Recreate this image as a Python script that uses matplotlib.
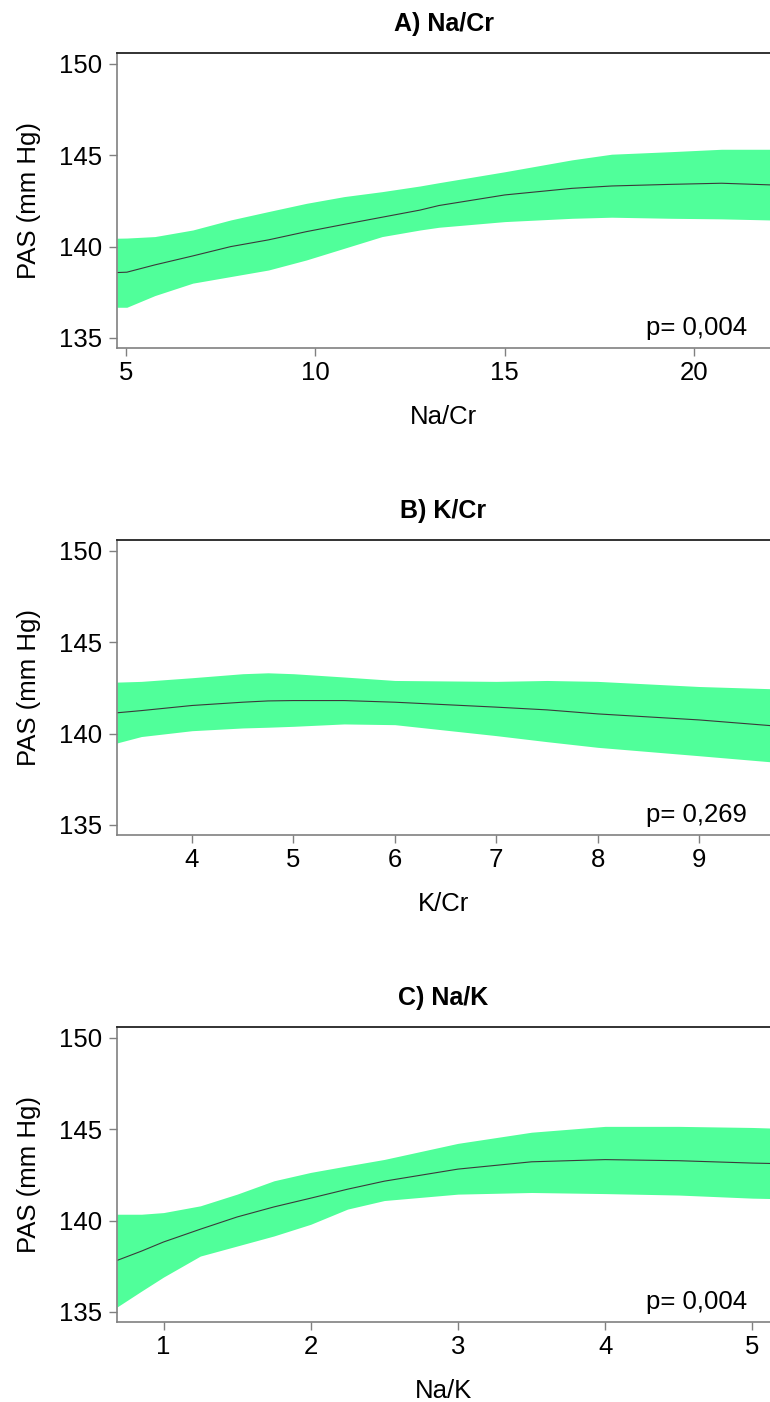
import matplotlib
matplotlib.use("Agg")
import matplotlib.pyplot as plt
import numpy as np

plt.rcParams['font.family'] = ['Liberation Sans', 'DejaVu Sans']

# ---------------- data ----------------
# Panel A: Na/Cr
a_x = [4.76, 5.02, 5.76, 6.76, 7.76, 8.76, 9.76, 10.76, 11.76, 12.76, 13.26, 15.0,
       16.77, 17.82, 19.4, 20.72, 22]
a_fit = [138.58, 138.6, 139.0, 139.49, 140.0, 140.37, 140.82, 141.22, 141.61, 142.0,
         142.25, 142.83, 143.19, 143.32, 143.41, 143.47, 143.38]
a_lo = [136.68, 136.68, 137.32, 138.0, 138.36, 138.72, 139.27, 139.91, 140.55, 140.91,
        141.06, 141.37, 141.55, 141.61, 141.55, 141.52, 141.46]
a_hi = [140.46, 140.47, 140.55, 140.91, 141.46, 141.92, 142.37, 142.74, 143.01, 143.32,
        143.5, 144.1, 144.75, 145.06, 145.2, 145.33, 145.33]

# Panel B: K/Cr
b_x = [3.26, 3.5, 4, 4.5, 4.75, 5, 5.5, 6, 7, 7.5, 8, 9, 9.7]
b_fit = [141.14, 141.26, 141.54, 141.72, 141.79, 141.81, 141.81, 141.72, 141.45, 141.3,
         141.08, 140.75, 140.44]
b_lo = [139.49, 139.84, 140.16, 140.31, 140.35, 140.4, 140.53, 140.49, 139.89, 139.56,
        139.25, 138.79, 138.46]
b_hi = [142.82, 142.86, 143.06, 143.28, 143.33, 143.28, 143.1, 142.91, 142.86, 142.91,
        142.86, 142.58, 142.46]

# Panel C: Na/K
c_x = [0.684, 0.85, 1, 1.25, 1.5, 1.75, 2, 2.25, 2.5, 3, 3.5, 4, 4.5, 5, 5.12]
c_fit = [137.82, 138.33, 138.83, 139.53, 140.2, 140.75, 141.23, 141.72, 142.16, 142.82,
         143.22, 143.34, 143.28, 143.15, 143.13]
c_lo = [135.27, 136.14, 136.91, 138.06, 138.61, 139.16, 139.8, 140.63, 141.1, 141.45,
        141.54, 141.48, 141.4, 141.23, 141.21]
c_hi = [140.35, 140.35, 140.44, 140.81, 141.45, 142.18, 142.64, 143.0, 143.35, 144.23,
        144.84, 145.16, 145.16, 145.1, 145.07]

titles = ["A) Na/Cr", "B) K/Cr", "C) Na/K"]
xlabels = ["Na/Cr", "K/Cr", "Na/K"]
pvals = ["p= 0,004", "p= 0,269", "p= 0,004"]
xticks = [[5, 10, 15, 20], [4, 5, 6, 7, 8, 9], [1, 2, 3, 4, 5]]
xlims = [(4.76, 22.0), (3.26, 9.7), (0.684, 5.12)]
yticks = [135, 140, 145, 150]
ylabel = "PAS (mm Hg)"

panels = [(a_x, a_fit, a_lo, a_hi), (b_x, b_fit, b_lo, b_hi), (c_x, c_fit, c_lo, c_hi)]

# ---------------- figure ----------------
W, H = 770, 1402
fig = plt.figure(figsize=(W / 100, H / 100), dpi=100)

left_px, right_px = 117, 770
tops = [53, 540, 1027]
bots = [348, 835, 1322]

fill_col = '#50FF9A'
line_col = '#3a3a3a'
spine_gray = '#808080'
FS = 18.5

for i, (xs, fit, lo, hi) in enumerate(panels):
    ax = fig.add_axes([left_px / W, 1 - bots[i] / H, (right_px - left_px) / W,
                       (bots[i] - tops[i]) / H])
    ax.fill_between(xs, lo, hi, color=fill_col, linewidth=0)
    ax.plot(xs, fit, color=line_col, linewidth=0.8)
    ax.set_xlim(*xlims[i])
    ax.set_ylim(134.45, 150.6)
    ax.set_xticks(xticks[i])
    ax.set_yticks(yticks)
    ax.tick_params(axis='both', direction='out', length=6, width=1, color=spine_gray,
                   labelsize=FS, labelcolor='black')
    ax.tick_params(axis='y', pad=5)
    ax.tick_params(axis='x', pad=3.5)
    ax.spines['right'].set_visible(False)
    ax.spines['top'].set_color('#222222')
    ax.spines['top'].set_linewidth(1.3)
    for s in ('left', 'bottom'):
        ax.spines[s].set_color(spine_gray)
        ax.spines[s].set_linewidth(1.2)
    ax.set_title(titles[i], fontsize=18, fontweight='bold', pad=16)
    ax.set_xlabel(xlabels[i], fontsize=FS, labelpad=14)
    ax.set_ylabel(ylabel, fontsize=FS, labelpad=13)
    ax.text(0.965, 13 / (bots[i] - tops[i]), pvals[i], transform=ax.transAxes,
            ha='right', va='baseline', fontsize=FS)

fig.savefig("out.png", dpi=100)
